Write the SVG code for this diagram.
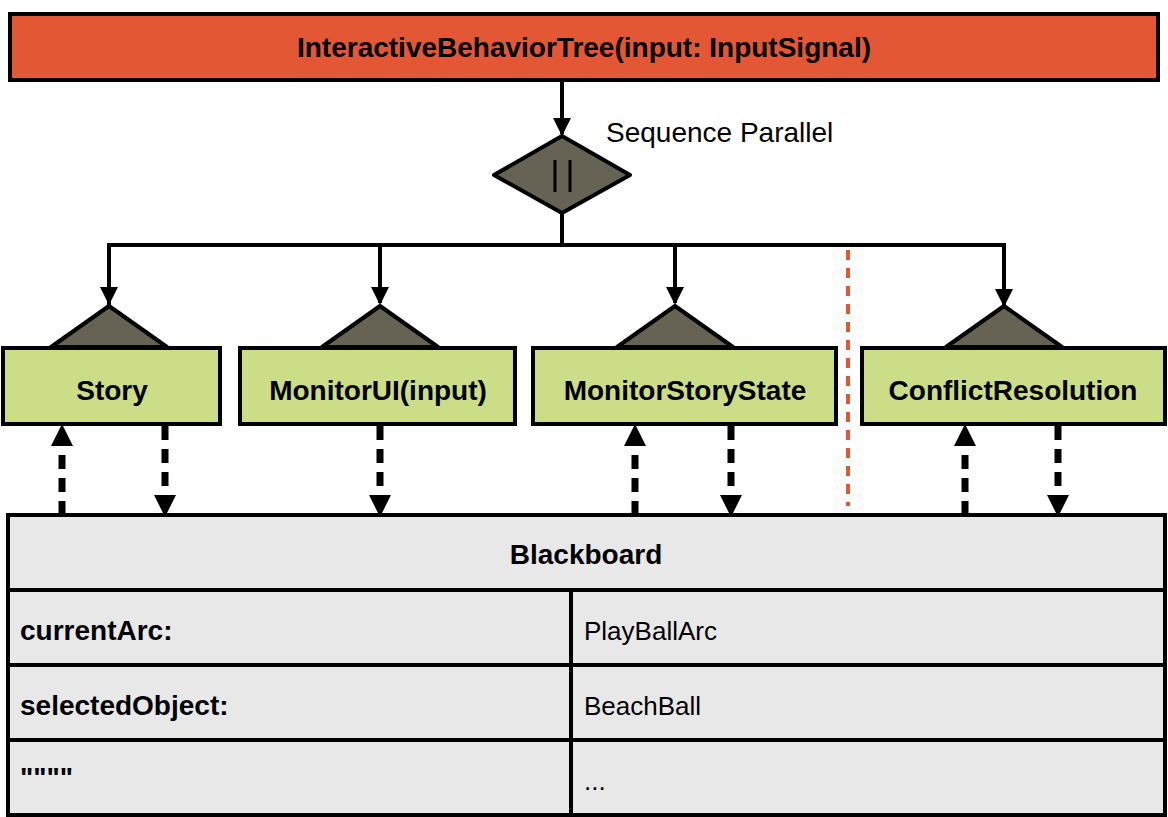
<svg xmlns="http://www.w3.org/2000/svg" width="1168" height="817" viewBox="0 0 1168 817">
<style>
.b{font-family:"Liberation Sans",Arial,sans-serif;font-weight:bold;fill:#000}
.r{font-family:"Liberation Sans",Arial,sans-serif;fill:#000}
.node{fill:#cbdd87;stroke:#000;stroke-width:4}
.tri{fill:#666355;stroke:#000;stroke-width:4;stroke-linejoin:round}
.cell{fill:#e8e8e8;stroke:#000;stroke-width:4}
.ln{stroke:#000;stroke-width:4;fill:none}
.dl{stroke:#000;stroke-width:7;stroke-dasharray:14 9;fill:none}
</style>
<defs>
<marker id="a" markerWidth="10" markerHeight="10" refX="9" refY="5" orient="auto" markerUnits="userSpaceOnUse" viewBox="0 0 10 10"><path d="M0,0 L10,5 L0,10z" fill="#000"/></marker>
<marker id="d" markerWidth="22" markerHeight="22" refX="20" refY="11" orient="auto" markerUnits="userSpaceOnUse" viewBox="0 0 22 22"><path d="M0,0 L22,11 L0,22z" fill="#000"/></marker>
<marker id="s" markerWidth="18" markerHeight="18" refX="16" refY="9" orient="auto" markerUnits="userSpaceOnUse" viewBox="0 0 18 18"><path d="M0,0 L18,9 L0,18z" fill="#000"/></marker>
</defs>
<g id="root">
<rect x="10" y="14" width="1148" height="66" fill="#e45735" stroke="#000" stroke-width="4"/>
<text class="b" x="584" y="57" font-size="28" text-anchor="middle">InteractiveBehaviorTree(input: InputSignal)</text>
</g>
<g id="parallel">
<polygon points="562,136 630,175 562,213 494,175" fill="#666355" stroke="#000" stroke-width="4" stroke-linejoin="round"/>
<line x1="555" y1="160" x2="555" y2="192" stroke="#000" stroke-width="3"/>
<line x1="570" y1="160" x2="570" y2="192" stroke="#000" stroke-width="3"/>
<text class="r" x="606" y="142" font-size="28">Sequence Parallel</text>
</g>
<g id="connectors">
<line class="ln" x1="562" y1="80" x2="562" y2="134" marker-end="url(#s)"/>
<line class="ln" x1="562" y1="213" x2="562" y2="245"/>
<polyline class="ln" points="109,305 109,245 1004,245 1004,305" marker-end="url(#s)"/>
<path class="ln" d="M109,247 V303" marker-end="url(#s)"/>
<path class="ln" d="M380,245 V303" marker-end="url(#s)"/>
<path class="ln" d="M675,245 V303" marker-end="url(#s)"/>
<line x1="848" y1="250" x2="848" y2="506" stroke="#e45735" stroke-width="4" stroke-dasharray="10 8"/>
<line class="dl" x1="62" y1="515" x2="62" y2="426" marker-end="url(#d)"/>
<line class="dl" x1="165" y1="426" x2="165" y2="515" marker-end="url(#d)"/>
<line class="dl" x1="380" y1="426" x2="380" y2="515" marker-end="url(#d)"/>
<line class="dl" x1="635" y1="515" x2="635" y2="426" marker-end="url(#d)"/>
<line class="dl" x1="731" y1="426" x2="731" y2="515" marker-end="url(#d)"/>
<line class="dl" x1="965" y1="515" x2="965" y2="426" marker-end="url(#d)"/>
<line class="dl" x1="1058" y1="426" x2="1058" y2="515" marker-end="url(#d)"/>
</g>
<g id="story">
<polygon class="tri" points="109,306 167,347 51,347"/>
<rect class="node" x="3" y="348" width="217" height="76"/>
<text class="b" x="112" y="400" font-size="28" text-anchor="middle">Story</text>
</g>
<g id="monitorui">
<polygon class="tri" points="380,306 438,347 322,347"/>
<rect class="node" x="240" y="348" width="275" height="76"/>
<text class="b" x="378" y="400" font-size="28" text-anchor="middle">MonitorUI(input)</text>
</g>
<g id="monitorstorystate">
<polygon class="tri" points="675,306 733,347 617,347"/>
<rect class="node" x="533" y="348" width="303" height="76"/>
<text class="b" x="685" y="400" font-size="28" text-anchor="middle">MonitorStoryState</text>
</g>
<g id="conflictresolution">
<polygon class="tri" points="1004,306 1062,347 946,347"/>
<rect class="node" x="862" y="348" width="303" height="76"/>
<text class="b" x="1013" y="400" font-size="28" text-anchor="middle">ConflictResolution</text>
</g>
<g id="blackboard">
<rect class="cell" x="8" y="515" width="1157" height="75"/>
<text class="b" x="586" y="564" font-size="28" text-anchor="middle">Blackboard</text>
<rect class="cell" x="8" y="590" width="563" height="75"/>
<rect class="cell" x="571" y="590" width="594" height="75"/>
<rect class="cell" x="8" y="665" width="563" height="75"/>
<rect class="cell" x="571" y="665" width="594" height="75"/>
<rect class="cell" x="8" y="740" width="563" height="75"/>
<rect class="cell" x="571" y="740" width="594" height="75"/>
<text class="b" x="20" y="640" font-size="28">currentArc:</text>
<text class="r" x="584" y="640" font-size="26">PlayBallArc</text>
<text class="b" x="20" y="715" font-size="28">selectedObject:</text>
<text class="r" x="584" y="715" font-size="26">BeachBall</text>
<text class="b" x="20" y="787" font-size="28">""""</text>
<text class="r" x="584" y="790" font-size="26">...</text>
</g>
</svg>
